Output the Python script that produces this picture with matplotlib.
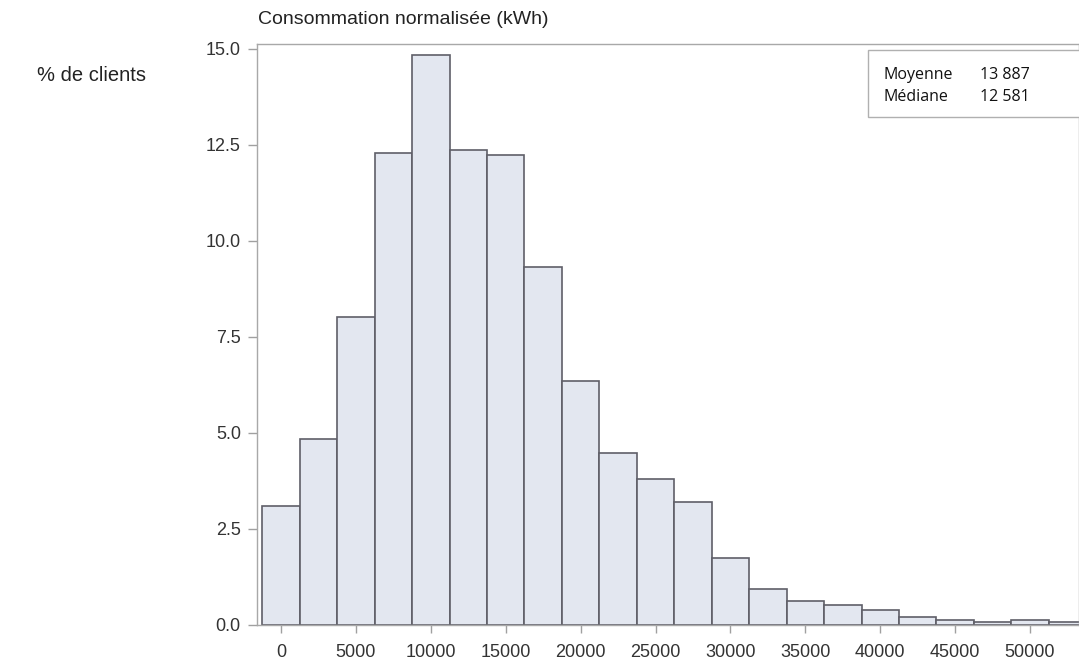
import matplotlib.pyplot as plt
from matplotlib.patches import Rectangle

# Histogram data (bin centres in kWh, % of clients)
bin_centres = [0, 2500, 5000, 7500, 10000, 12500, 15000, 17500, 20000, 22500,
               25000, 27500, 30000, 32500, 35000, 37500, 40000, 42500, 45000,
               47500, 50000, 52500]
pct_clients = [3.10, 4.85, 8.02, 12.28, 14.85, 12.36, 12.25, 9.32, 6.36, 4.47,
               3.79, 3.20, 1.74, 0.94, 0.62, 0.51, 0.38, 0.22, 0.14,
               0.07, 0.14, 0.07]
bin_width = 2500
x_ticks = [0, 5000, 10000, 15000, 20000, 25000, 30000, 35000, 40000, 45000, 50000]
y_ticks = [0.0, 2.5, 5.0, 7.5, 10.0, 12.5, 15.0]
stats_names = ["Moyenne", "Médiane"]
stats_values = ["13 887", "12 581"]

plt.rcParams['font.family'] = ['Liberation Sans', 'DejaVu Sans']

fig = plt.figure(figsize=(10.79, 6.61), dpi=100)
ax = fig.add_axes([0.238, 0.0545, 0.762, 0.879])

ax.bar(bin_centres, pct_clients, width=bin_width, color="#e3e7f0",
       edgecolor="#5f5f68", linewidth=1.2)

ax.set_xlim(-1620, 53270)
ax.set_ylim(0, 15.13)
ax.set_xticks(x_ticks)
ax.set_yticks(y_ticks)
ax.set_yticklabels([f"{v:.1f}" for v in y_ticks])

for side in ["left", "bottom", "top", "right"]:
    ax.spines[side].set_color("#a8a8a8")
    ax.spines[side].set_linewidth(1.0)
ax.tick_params(colors="#a0a0a0", labelcolor="#333333", labelsize=13, width=1)
ax.tick_params(axis="x", length=6, pad=8)
ax.tick_params(axis="y", length=6.5, pad=5)

# titles
fig.text(0.239, 0.971, "Consommation normalisée (kWh)", fontsize=14,
         color="#222222", ha="left", va="center")
fig.text(0.034, 0.886, "% de clients", fontsize=14.5, color="#222222",
         ha="left", va="center")

# stats box
fig.add_artist(Rectangle((0.8045, 0.823), 0.25, 0.101, transform=fig.transFigure,
                         facecolor="white", edgecolor="#b0b0b0", linewidth=1.0,
                         clip_on=False))
for i, (name, val) in enumerate(zip(stats_names, stats_values)):
    y = 0.887 - i * 0.034
    fig.text(0.819, y, name, fontsize=11.5, family=["Open Sans", "DejaVu Sans"],
             color="#111111", ha="left", va="center")
    fig.text(0.908, y, val, fontsize=11.5, family=["Open Sans", "DejaVu Sans"],
             color="#111111", ha="left", va="center")

fig.savefig("out.png", dpi=100)
